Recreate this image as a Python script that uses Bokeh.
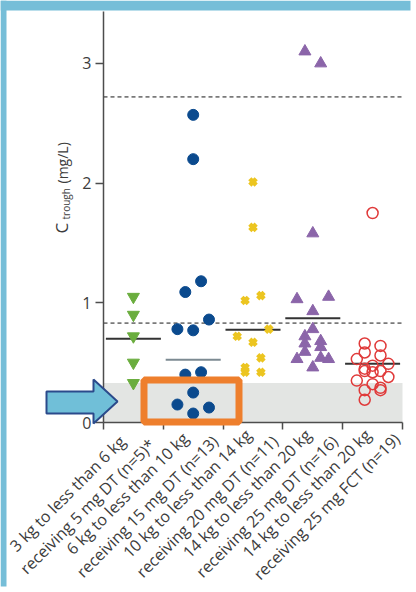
import numpy as np
from bokeh.plotting import figure
from bokeh.models import (FixedTicker, BoxAnnotation, PolyAnnotation, Label,
                          ColumnDataSource, Range1d)
from bokeh.embed import file_html
from bokeh.resources import INLINE

# ---------------- data ----------------
weight_bands = ["3 kg to less than 6 kg", "6 kg to less than 10 kg",
                "10 kg to less than 14 kg", "14 kg to less than 20 kg",
                "14 kg to less than 20 kg"]
dose_groups = ["receiving 5 mg DT (n=5)*", "receiving 15 mg DT (n=13)",
               "receiving 20 mg DT (n=11)", "receiving 25 mg DT (n=16)",
               "receiving 25 mg FCT (n=19)"]

g1_ctrough = [1.05, 0.90, 0.72, 0.50, 0.33]
g1_slot = [0, 0, 0, 0, 0]

g2_ctrough = [2.57, 2.20, 1.18, 1.09, 0.86, 0.78, 0.77, 0.42, 0.40, 0.25, 0.15, 0.125, 0.075]
g2_slot = [0, 0, 1, -1, 2, -2, 0, 1, -1, 0, -2, 2, 0]

g3_ctrough = [2.01, 1.63, 1.06, 1.02, 0.78, 0.72, 0.67, 0.54, 0.46, 0.42, 0.42]
g3_slot = [0, 0, 1, -1, 2, -2, 0, 1, -1, -1, 1]

g4_ctrough = [3.10, 3.00, 1.58, 1.05, 1.03, 0.93, 0.78, 0.72, 0.68, 0.66, 0.63, 0.59,
              0.54, 0.53, 0.53, 0.46]
g4_slot = [-1, 1, 0, 2, -2, 0, 0, -1, 1, -1, 1, -1, 1, -2, 2, 0]

g5_ctrough = [1.75, 0.66, 0.64, 0.585, 0.56, 0.53, 0.49, 0.475, 0.45, 0.43, 0.43, 0.42,
              0.38, 0.35, 0.32, 0.29, 0.27, 0.27, 0.19]
g5_slot = [0, -1, 1, -1, 1, -2, 2, 0, -1, -1, 1, 0, 2, -2, 0, 1, 1, -1, -1]

group_summary = [0.70, 0.525, 0.775, 0.87, 0.49]

upper_reference = 2.72
lower_reference = 0.83
quant_limit = 0.33

y_ticks = [0, 1, 2, 3]
y_top = 3.433
n_groups = 5

# ---------------- layout helpers ----------------
W, H = 414, 590
X0PX, XUNIT = 103, 59.8      # pixel of x=0, pixels per group
Y0PX, YUNIT = 422, 119.7     # pixel of y=0, pixels per mg/L


def dx(px):
    return (px - X0PX) / XUNIT


def dy(py):
    return (Y0PX - py) / YUNIT


FONT = "Open Sans"
TXT = "#3c3c3c"
AX = "#4d4d4d"
FRAME = "#76bed8"
SLOT = 0.132
HALF = 0.46

p = figure(width=W, height=H, output_backend="svg", toolbar_location=None,
           x_range=Range1d(dx(0), dx(W)), y_range=Range1d(dy(H), dy(0)),
           min_border=0, min_border_left=0, min_border_right=0,
           min_border_top=0, min_border_bottom=0,
           background_fill_color="white", border_fill_color="white",
           outline_line_color=None)
p.xgrid.visible = False
p.ygrid.visible = False

# page frame (light blue strips top and left)
p.quad(left=[dx(0), dx(0)], right=[dx(410), dx(6)], bottom=[dy(10), dy(586)],
       top=[dy(0), dy(0)], fill_color=FRAME, line_color=None)

# grey band below limit
p.add_layout(BoxAnnotation(left=0, right=n_groups, bottom=0, top=quant_limit,
                           fill_color="#e3e5e3", fill_alpha=1, line_color=None,
                           level="underlay"))

# dashed reference lines
p.segment(x0=[0, 0], x1=[n_groups, n_groups], y0=[upper_reference, lower_reference],
          y1=[upper_reference, lower_reference], line_color="#7a7a7a",
          line_width=1.6, line_dash="4 3")

# summary lines
cx = [i + 0.5 for i in range(n_groups)]
seg_src = ColumnDataSource(dict(x0=[c - HALF for c in cx], x1=[c + HALF for c in cx],
                                y=group_summary,
                                color=["#333333", "#7c8a92", "#333333", "#333333", "#333333"]))
p.segment(x0="x0", y0="y", x1="x1", y1="y", color="color", line_width=2, source=seg_src)


def xs(gi, slots):
    return [gi + 0.5 + s * SLOT for s in slots]


p.scatter(xs(0, g1_slot), g1_ctrough, marker="inverted_triangle", size=12,
          fill_color="#6aad3d", line_color="#6aad3d")
p.scatter(xs(1, g2_slot), g2_ctrough, marker="circle", size=11,
          fill_color="#0b4a8e", line_color="#0b4a8e")
p.scatter(xs(2, g3_slot), g3_ctrough, marker="x", size=9,
          line_color="#ecc520", line_width=4.5)
p.scatter(xs(3, g4_slot), g4_ctrough, marker="triangle", size=12,
          fill_color="#8b65a9", line_color="#8b65a9")
p.scatter(xs(4, g5_slot), g5_ctrough, marker="circle", size=11,
          fill_color=None, line_color="#e03a3a", line_width=1.5)

# axes (fixed at data origin, bounded to the data area)
ya = p.yaxis[0]
ya.fixed_location = 0
ya.bounds = (0, y_top)
ya.ticker = FixedTicker(ticks=y_ticks)
ya.axis_line_color = AX
ya.axis_line_width = 1.5
ya.major_tick_line_color = AX
ya.major_tick_line_width = 1.5
ya.major_tick_out = 8
ya.major_tick_in = 0
ya.minor_tick_line_color = None
ya.major_label_text_font = FONT
ya.major_label_text_font_size = "16px"
ya.major_label_text_color = TXT
ya.major_label_standoff = 4

xa = p.xaxis[0]
xa.fixed_location = 0
xa.bounds = (0, n_groups)
xa.ticker = FixedTicker(ticks=[], minor_ticks=list(range(n_groups + 1)))
xa.axis_line_color = AX
xa.axis_line_width = 1.5
xa.major_tick_line_color = None
xa.minor_tick_line_color = AX
xa.minor_tick_line_width = 1.5
xa.minor_tick_out = 7
xa.minor_tick_in = 0
xa.major_label_text_font_size = "0px"

# category labels, two rotated lines per group
for c, a, b in zip(cx, weight_bands, dose_groups):
    p.add_layout(Label(x=c + (-66) / XUNIT, y=dy(493), text=a, angle=np.pi / 4,
                       text_font=FONT, text_font_size="16px", text_color=TXT,
                       text_align="center", text_baseline="middle"))
    p.add_layout(Label(x=c + (-46) / XUNIT, y=dy(506), text=b, angle=np.pi / 4,
                       text_font=FONT, text_font_size="16px", text_color=TXT,
                       text_align="center", text_baseline="middle"))

# y axis title: C_trough (mg/L)
p.add_layout(Label(x=dx(61), y=dy(233), text="C", angle=np.pi / 2,
                   text_font=FONT, text_font_size="17px", text_color=TXT,
                   text_align="left", text_baseline="alphabetic"))
p.add_layout(Label(x=dx(65), y=dy(219), text="trough", angle=np.pi / 2,
                   text_font=FONT, text_font_size="10px", text_color=TXT,
                   text_align="left", text_baseline="alphabetic"))
p.add_layout(Label(x=dx(62), y=dy(183), text="(mg/L)", angle=np.pi / 2,
                   text_font=FONT, text_font_size="14px", text_color=TXT,
                   text_align="left", text_baseline="alphabetic"))

# highlight annotations: arrow and box
arrow_x = [dx(46), dx(93), dx(93), dx(117), dx(93), dx(93), dx(46)]
arrow_y = [dy(391), dy(391), dy(379), dy(401), dy(423), dy(413), dy(413)]
p.add_layout(PolyAnnotation(xs=arrow_x, ys=arrow_y, fill_color="#70bfd8", fill_alpha=1,
                            line_color="#2b4a8b", line_alpha=1, line_width=2))
box_x = [dx(143.5), dx(238.5), dx(238.5), dx(143.5)]
box_y = [dy(379.5), dy(379.5), dy(421.5), dy(421.5)]
p.add_layout(PolyAnnotation(xs=box_x, ys=box_y, fill_alpha=0, fill_color=None,
                            line_color="#ee7f2d", line_alpha=1, line_width=7))

open("out.html", "w").write(file_html(p, INLINE))
